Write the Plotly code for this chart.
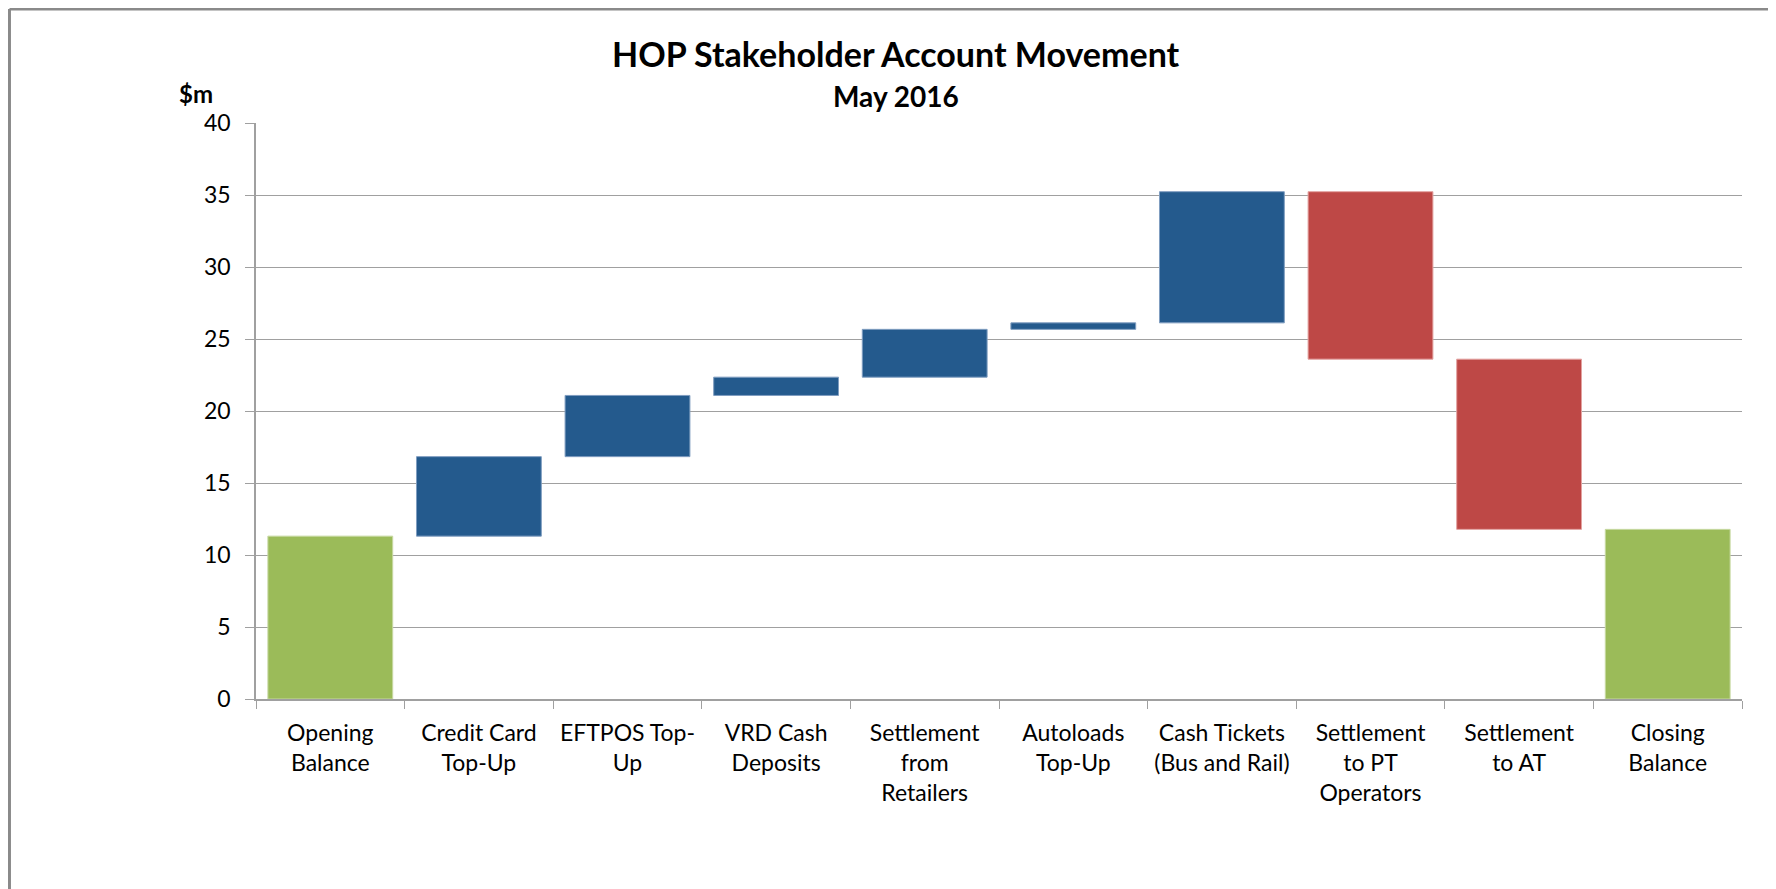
import plotly.graph_objects as go

# HOP stakeholder account movement, May 2016 ($m)
categories = ["Opening<br>Balance", "Credit Card<br>Top-Up", "EFTPOS Top-<br>Up", "VRD Cash<br>Deposits",
              "Settlement<br>from<br>Retailers", "Autoloads<br>Top-Up", "Cash Tickets<br>(Bus and Rail)",
              "Settlement<br>to PT<br>Operators", "Settlement<br>to AT", "Closing<br>Balance"]
movements = [11.31, 5.52, 4.25, 1.27, 3.32, 0.45, 9.11, -11.63, -11.82, 0]
measures = ["absolute", "relative", "relative", "relative", "relative", "relative", "relative",
            "relative", "relative", "total"]
y_ticks = [0, 5, 10, 15, 20, 25, 30, 35, 40]

blue = "#245A8D"
red = "#BE4846"
green = "#9BBB59"
font_name = "Lato"

fig = go.Figure(go.Waterfall(
    x=categories,
    y=movements,
    measure=measures,
    width=0.84,
    connector={"visible": False},
    increasing={"marker": {"color": blue, "line": {"color": "#7F9DC0", "width": 1}}},
    decreasing={"marker": {"color": red, "line": {"color": "#E3A2A0", "width": 1}}},
    totals={"marker": {"color": green, "line": {"color": "#C7D9A2", "width": 1}}},
    showlegend=False,
    hoverinfo="x+y",
))

# the page body adds an 8px margin, so the margins are pulled in by 8px
fig.update_layout(
    width=1776, height=889,
    margin=dict(l=248, r=42, t=115, b=198),
    paper_bgcolor="white", plot_bgcolor="white",
    font=dict(family=font_name, size=23, color="black"),
    annotations=[
        dict(text="<b>HOP Stakeholder Account Movement</b>", x=0.4307, y=1.1215, xref="paper", yref="paper",
             showarrow=False, font=dict(size=34), xanchor="center", yanchor="middle"),
        dict(text="<b>May 2016</b>", x=0.4307, y=1.047, xref="paper", yref="paper",
             showarrow=False, font=dict(size=28), xanchor="center", yanchor="middle"),
        dict(text="<b>$m</b>", x=-0.0404, y=1.052, xref="paper", yref="paper",
             showarrow=False, font=dict(size=24), xanchor="center", yanchor="middle"),
    ],
    shapes=[
        dict(type="line", xref="paper", yref="paper", x0=-0.1659, x1=1.05, y0=1.1979, y1=1.1979,
             line=dict(color="#8A8A8A", width=3)),
        dict(type="line", xref="paper", yref="paper", x0=-0.1659, x1=-0.1659, y0=1.1979, y1=-0.4,
             line=dict(color="#8A8A8A", width=3)),
    ],
)

fig.update_xaxes(
    showline=True, linecolor="#A0A0A0", linewidth=1.5,
    ticks="outside", tickson="boundaries", ticklen=8, tickcolor="#A0A0A0",
    showgrid=False, tickfont=dict(size=23), ticklabelstandoff=13,
)
fig.update_yaxes(
    range=[0, 40], tickvals=y_ticks,
    showline=True, linecolor="#A0A0A0", linewidth=1.5,
    ticks="outside", ticklen=9, tickcolor="#A0A0A0",
    showgrid=True, gridcolor="#A0A0A0", gridwidth=1.2,
    zeroline=False, tickfont=dict(size=23), ticklabelstandoff=10,
)

fig.write_html("out.html")
